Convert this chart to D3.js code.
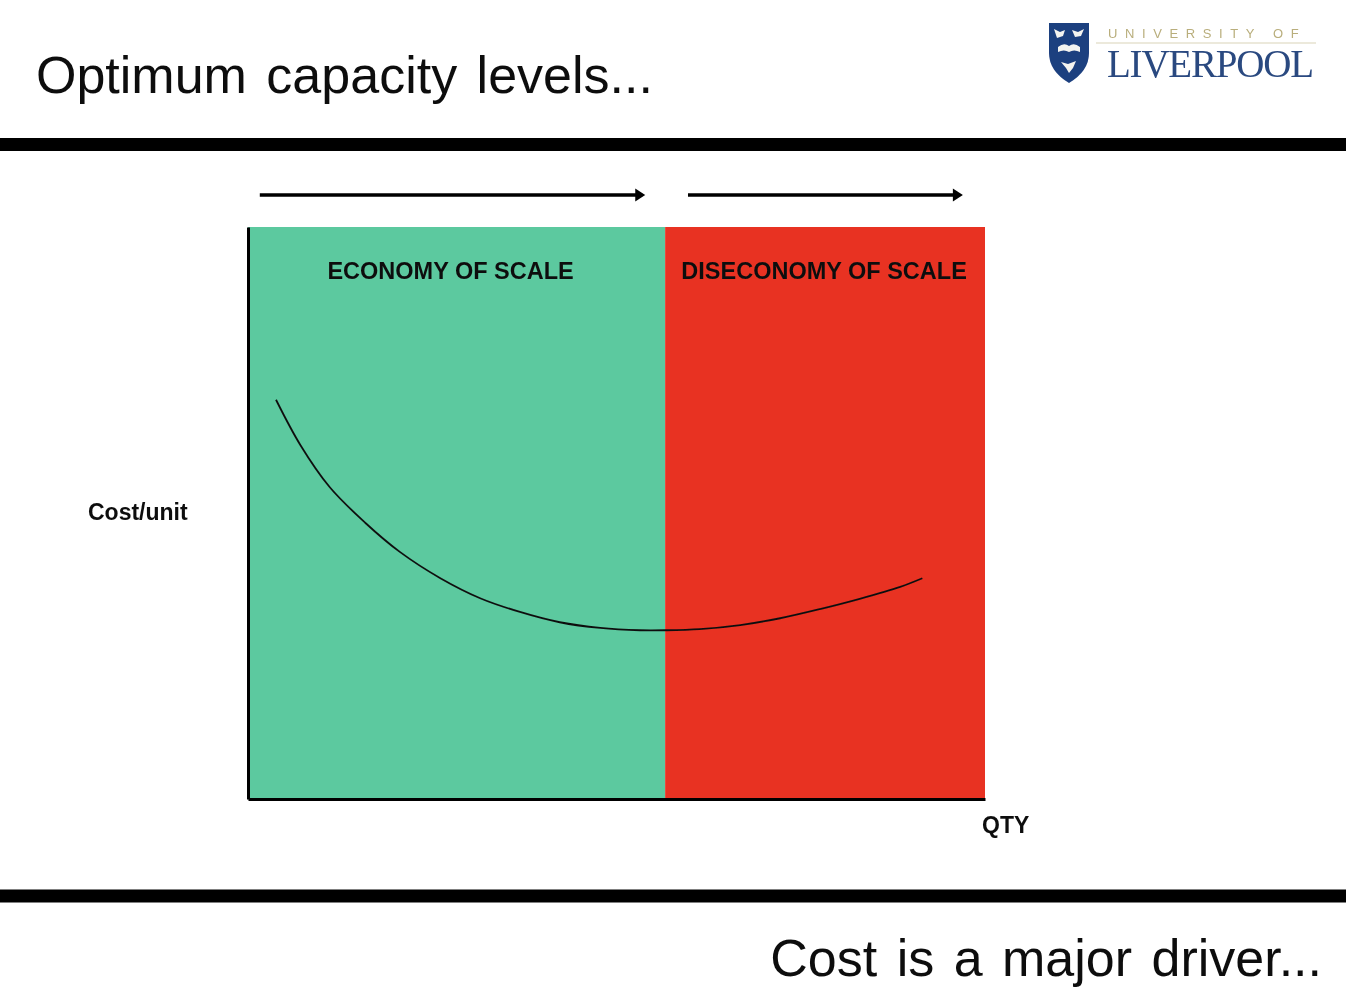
<!DOCTYPE html>
<html>
<head>
<meta charset="utf-8">
<title>Optimum capacity levels</title>
<script src="https://cdn.jsdelivr.net/npm/d3@7"></script>
<style>
  html, body { margin: 0; padding: 0; background: #fff; }
  svg { display: block; }
  text { font-family: "Liberation Sans", Arial, sans-serif; }
</style>
</head>
<body>
<svg id="slide" width="1346" height="1000"></svg>
<script>
'use strict';

// Values (both axes run 0-100, there are no ticks)
const zoneNames = ['ECONOMY OF SCALE', 'DISECONOMY OF SCALE'];
const zoneStart = [0, 56.6];
const zoneEnd = [56.6, 100];
const zoneColors = ['#5cc99f', '#e83324'];
const arrowStart = [1.6, 59.7];
const arrowEnd = [53.9, 97];
const curveQty = [3.8, 7.1, 11.1, 15.9, 20.6, 26.1, 31.5, 36.9, 42.3, 47.8, 53.2, 56.6, 61.3, 66.8, 72.2, 77.6, 83, 88.5, 91.5];
const curveCost = [69.8, 61.9, 54.5, 48.3, 43.2, 38.6, 35.1, 32.7, 30.9, 29.9, 29.5, 29.5, 29.7, 30.4, 31.6, 33.2, 35, 37.1, 38.6];

const svg = d3.select('#slide');

// The source is a soft photo of a slide, so everything gets a slight blur
svg.append('defs').append('filter')
    .attr('id', 'soft')
    .attr('x', 0).attr('y', 0).attr('width', 1346).attr('height', 1000)
    .attr('filterUnits', 'userSpaceOnUse')
    .append('feGaussianBlur')
    .attr('stdDeviation', 0.7);

const slide = svg.append('g').attr('filter', 'url(#soft)');

const x = d3.scaleLinear().domain([0, 100]).range([248, 985]);
const y = d3.scaleLinear().domain([0, 100]).range([799, 227]);

// Title and footer
slide.append('text')
    .attr('x', 36).attr('y', 93)
    .attr('font-size', 52)
    .attr('word-spacing', 5)
    .attr('fill', '#111')
    .text('Optimum capacity levels...');

slide.append('text')
    .attr('x', 1322).attr('y', 976)
    .attr('text-anchor', 'end')
    .attr('font-size', 52)
    .attr('word-spacing', 5)
    .attr('fill', '#111')
    .text('Cost is a major driver...');

// Heavy rules
slide.selectAll('.rule')
    .data([144.5, 896])
    .join('rect')
    .attr('class', 'rule')
    .attr('x', 0)
    .attr('y', d => d - 6.5)
    .attr('width', 1346)
    .attr('height', 13)
    .attr('fill', '#000');

// Zones
const zones = zoneNames.map((name, i) => ({
    name, start: zoneStart[i], end: zoneEnd[i], color: zoneColors[i]
}));

slide.selectAll('.zone')
    .data(zones)
    .join('rect')
    .attr('class', 'zone')
    .attr('x', d => x(d.start))
    .attr('y', y(100))
    .attr('width', d => x(d.end) - x(d.start))
    .attr('height', y(0) - y(100))
    .attr('fill', d => d.color);

slide.selectAll('.zone-label')
    .data(zones)
    .join('text')
    .attr('class', 'zone-label')
    .attr('x', d => (x(d.start) + x(d.end)) / 2 - (d.start === 0 ? 6 : 1))
    .attr('y', 279)
    .attr('text-anchor', 'middle')
    .attr('font-size', 23.5)
    .attr('font-weight', 'bold')
    .attr('fill', '#111')
    .text(d => d.name);

// Axes, no ticks in the original
slide.append('g')
    .attr('transform', `translate(0,${y(0)})`)
    .call(d3.axisBottom(x).tickValues([]).tickSizeOuter(0))
    .select('.domain').attr('stroke', '#000').attr('stroke-width', 3);

slide.append('g')
    .attr('transform', `translate(${x(0)},0)`)
    .call(d3.axisLeft(y).tickValues([]).tickSizeOuter(0))
    .select('.domain').attr('stroke', '#000').attr('stroke-width', 3);

slide.append('text')
    .attr('x', 88).attr('y', 520)
    .attr('font-size', 23)
    .attr('font-weight', 'bold')
    .attr('fill', '#111')
    .text('Cost/unit');

slide.append('text')
    .attr('x', 982).attr('y', 833)
    .attr('font-size', 23)
    .attr('font-weight', 'bold')
    .attr('fill', '#111')
    .text('QTY');

// Cost curve
const curve = d3.line()
    .x(d => x(d[0]))
    .y(d => y(d[1]))
    .curve(d3.curveCatmullRom);

slide.append('path')
    .datum(d3.zip(curveQty, curveCost))
    .attr('d', curve)
    .attr('fill', 'none')
    .attr('stroke', '#111')
    .attr('stroke-width', 1.8);

// Arrows above the plot
const arrowY = 195;
slide.selectAll('.arrow-line')
    .data(d3.zip(arrowStart, arrowEnd))
    .join('line')
    .attr('class', 'arrow-line')
    .attr('x1', d => x(d[0]))
    .attr('x2', d => x(d[1]) - 6)
    .attr('y1', arrowY)
    .attr('y2', arrowY)
    .attr('stroke', '#000')
    .attr('stroke-width', 3.5);

slide.selectAll('.arrow-head')
    .data(arrowEnd)
    .join('path')
    .attr('class', 'arrow-head')
    .attr('d', d => `M${x(d)},${arrowY}l-10,-6.5v13z`)
    .attr('fill', '#000');

// University logo
const logo = slide.append('g');

logo.append('path')
    .attr('d', 'M1049,23h40v30q0,18 -20,30q-20,-12 -20,-30z')
    .attr('fill', '#1d3f7f');

// Rough marks on the shield: birds, open book, bird
const shieldMarks = [
    'M1054,29l6,3l5,-2l-2,6l-6,2z',
    'M1072,30l6,2l6,-3l-3,7l-6,1z',
    'M1058,47q6,-5 11,-1q5,-4 11,1v5q-6,-3 -11,0q-5,-3 -11,0z',
    'M1061,62l7,2l8,-3l-3,7l-4,5l-3,-5z'
];
logo.selectAll('.mark')
    .data(shieldMarks)
    .join('path')
    .attr('class', 'mark')
    .attr('d', d => d)
    .attr('fill', '#f4f4f0');

logo.append('line')
    .attr('x1', 1096).attr('x2', 1316)
    .attr('y1', 43).attr('y2', 43)
    .attr('stroke', '#d9d4b8')
    .attr('stroke-width', 1.2);

logo.append('text')
    .attr('x', 1108).attr('y', 38)
    .attr('font-size', 13)
    .attr('letter-spacing', 7.6)
    .attr('fill', '#b9ae7c')
    .text('UNIVERSITY OF');

logo.append('text')
    .attr('x', 1107).attr('y', 77)
    .attr('font-size', 39)
    .attr('letter-spacing', -1.2)
    .attr('fill', '#2b4a80')
    .style('font-family', '"Liberation Serif", serif')
    .text('LIVERPOOL');
</script>
</body>
</html>
